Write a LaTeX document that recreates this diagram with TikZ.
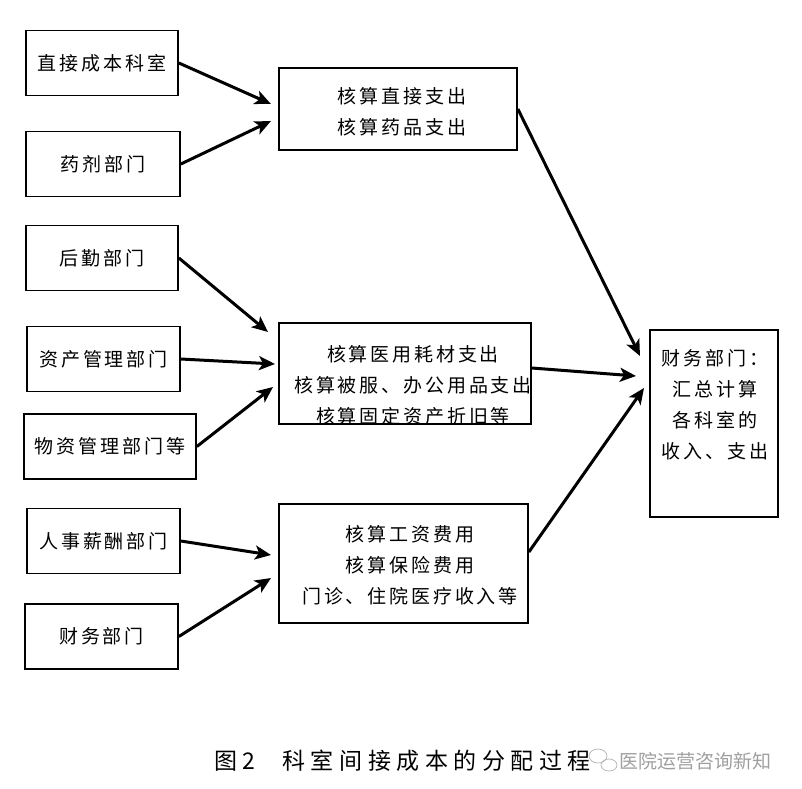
\documentclass[tikz,border=0pt]{standalone}
\usepackage{fontspec}
\newfontfamily\cjk[LetterSpace=15]{Noto Sans CJK SC}
\newfontfamily\capcjk[LetterSpace=24]{Noto Sans CJK SC}
\newfontfamily\markcjk{Noto Sans CJK SC}
\usepackage{tikz}
\usetikzlibrary{arrows.meta}
\tikzset{
  dept/.style = {draw, line width=1.7pt, inner sep=0pt, minimum height=65pt, font=\cjk\fontsize{19}{31}\selectfont},
  box/.style = {draw, line width=1.7pt, inner sep=0pt},
  words/.style = {align=center, inner sep=0pt, font=\cjk\fontsize{19}{31}\selectfont},
  flow/.style = {-{Stealth[length=16pt,width=14pt,inset=4pt]}, line width=3pt}
}

\begin{document}
\begin{tikzpicture}[x=1pt, y=-1pt]
  \useasboundingbox (0,0) rectangle (802,788);

  % departments on the left
  \foreach \name/\x/\y/\w/\txt in {
      zhijie/102/63/152/直接成本科室,
      yaoji/103/164/154/药剂部门,
      houqin/102/258/152/后勤部门,
      zichan/103.5/359/153/资产管理部门,
      wuzi/110/446.5/172/物资管理部门等,
      renshi/103.5/541/153/人事薪酬部门,
      caiwu/101.5/636.5/153/财务部门}
    \node[dept, minimum width=\w pt] (\name) at (\x,\y) {\txt};

  % accounting boxes
  \node[box, minimum width=238pt, minimum height=82pt] (zhichu) at (398,109) {};
  \node[words] (zhichu text) at (402,112) {核算直接支出\\核算药品支出};

  \node[box, minimum width=252pt, minimum height=101pt] (haocai) at (405,373.5) {};
  \node[words] (haocai text) at (413,385) {核算医用耗材支出\\核算被服、办公用品支出\\核算固定资产折旧等};

  \node[box, minimum width=249pt, minimum height=119pt] (gongzi) at (403.5,563.5) {};
  \node[words] (gongzi text) at (410,565) {核算工资费用\\核算保险费用\\门诊、住院医疗收入等};

  \node[box, minimum width=128pt, minimum height=187pt] (huizong) at (714,423.5) {};
  \node[words] (huizong text) at (715,405) {财务部门：\\汇总计算\\各科室的\\收入、支出};

  % arrow tips
  \coordinate (to zhijie) at (271,104);
  \coordinate (to yaoji) at (271,121);
  \coordinate (to houqin) at (268,332);
  \coordinate (to zichan) at (275,364);
  \coordinate (to wuzi) at (273,387);
  \coordinate (to renshi) at (271,555);
  \coordinate (to caiwu) at (271,578);
  \coordinate (to zhichu) at (640,356);
  \coordinate (to haocai) at (636,376);
  \coordinate (to gongzi) at (644,388);

  \foreach \n in {zhijie, yaoji, houqin, zichan, wuzi, renshi, caiwu, zhichu}
    \draw[flow] (\n.east) -- (to \n);
  \draw[flow] ([yshift=5.5pt]haocai.east) -- (to haocai);
  \draw[flow] ([yshift=11.5pt]gongzi.east) -- (to gongzi);

  % caption
  \node[anchor=west, inner sep=0pt, font=\capcjk\fontsize{23}{23}\selectfont] (caption) at (214,761) {图2\hspace{27pt}科室间接成本的分配过程};
  \draw[gray!55, line width=0.8pt] (598,756) ellipse (9 and 7);
  \draw[gray!55, line width=0.8pt] (609,765) ellipse (8 and 6);
  \node[anchor=west, inner sep=0pt, text=gray!75, font=\markcjk\fontsize{19}{19}\selectfont] (mark) at (619,761) {医院运营咨询新知};
\end{tikzpicture}
\end{document}
